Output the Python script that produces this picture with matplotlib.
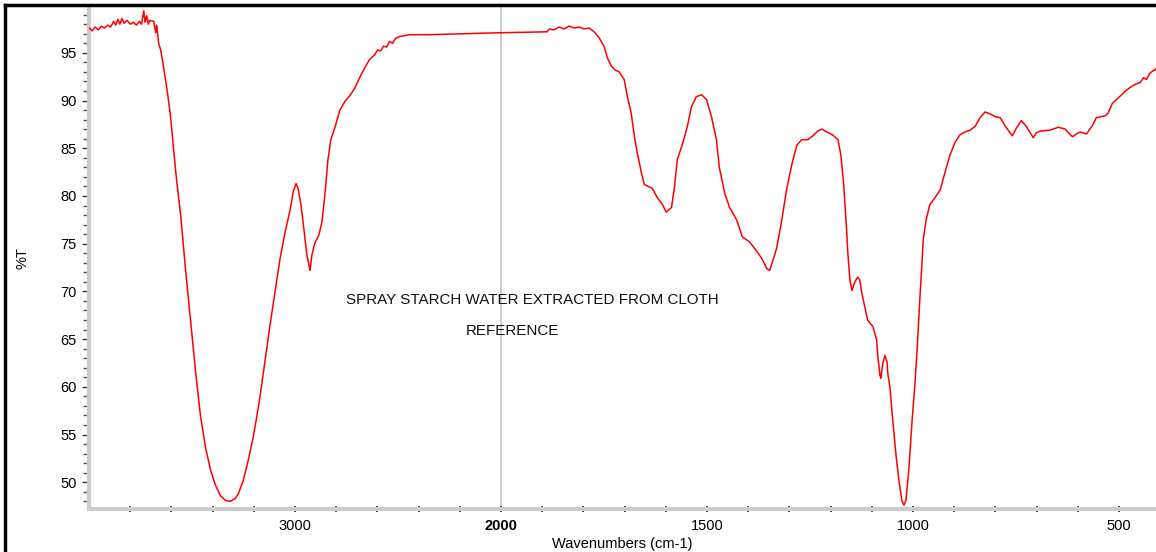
import numpy as np
import matplotlib.pyplot as plt
from matplotlib.lines import Line2D
from matplotlib.ticker import FixedLocator, NullFormatter

# IR spectrum, %T against wavenumber (cm-1)
wavenumber = [3998, 3985, 3970, 3955, 3940, 3925, 3910, 3895, 3880, 3870,
              3860, 3850, 3840, 3830, 3815, 3800, 3785, 3770, 3755, 3745,
              3734, 3728, 3720, 3712, 3705, 3686, 3676, 3671, 3662, 3652,
              3638, 3619, 3604, 3589, 3575, 3555, 3531, 3507, 3483, 3459,
              3434, 3410, 3386, 3362, 3338, 3314, 3290, 3275, 3251, 3227,
              3203, 3183, 3169, 3145, 3121, 3096, 3072, 3048, 3024, 3009,
              2995, 2985, 2971, 2956, 2942, 2927, 2918, 2903, 2884, 2869,
              2855, 2840, 2826, 2807, 2782, 2758, 2734, 2710, 2686, 2662,
              2638, 2613, 2599, 2584, 2570, 2555, 2541, 2526, 2512, 2493,
              2444, 2348, 2010, 1888, 1883, 1871, 1859, 1847, 1835, 1822,
              1810, 1798, 1786, 1774, 1762, 1749, 1742, 1732, 1723, 1713,
              1701, 1693, 1684, 1676, 1669, 1659, 1652, 1633, 1620, 1608,
              1599, 1586, 1579, 1572, 1562, 1555, 1547, 1538, 1526, 1513,
              1501, 1489, 1477, 1470, 1457, 1445, 1428, 1414, 1397, 1377,
              1365, 1355, 1348, 1341, 1331, 1319, 1307, 1294, 1282, 1270,
              1255, 1243, 1231, 1221, 1209, 1195, 1182, 1175, 1168, 1161,
              1158, 1153, 1148, 1141, 1134, 1129, 1124, 1117, 1110, 1097,
              1088, 1085, 1080, 1078, 1073, 1068, 1063, 1061, 1056, 1049,
              1041, 1034, 1027, 1022, 1017, 1010, 1002, 995, 990, 983,
              978, 975, 968, 959, 947, 934, 922, 910, 898, 886,
              874, 861, 849, 837, 825, 813, 800, 788, 774, 759,
              749, 737, 725, 715, 708, 701, 691, 667, 647, 630,
              620, 613, 603, 594, 579, 572, 564, 555, 545, 533,
              526, 516, 506, 496, 484, 472, 460, 448, 440, 433,
              426, 418, 413, 409]
transmittance = [97.6, 97.3, 97.7, 97.4, 97.8, 97.6, 97.9, 97.7, 98.3, 97.9,
                 98.5, 98.0, 98.6, 98.1, 98.4, 98.0, 98.2, 97.9, 98.3, 98.0,
                 99.4, 98.2, 98.9, 98.0, 98.4, 98.3, 97.1, 97.9, 96.0, 95.3,
                 93.5, 90.8, 88.3, 84.8, 81.7, 78.0, 72.2, 67.0, 61.7, 57.0,
                 53.6, 51.3, 49.7, 48.6, 48.1, 48.0, 48.3, 48.8, 50.2, 52.3,
                 54.7, 57.2, 59.1, 62.8, 66.5, 70.1, 73.5, 76.2, 78.5, 80.4,
                 81.3, 80.8, 79.1, 76.4, 73.8, 72.2, 73.8, 75.1, 75.9, 77.3,
                 80.1, 83.8, 85.9, 87.1, 89.0, 89.9, 90.5, 91.3, 92.4, 93.4,
                 94.3, 94.8, 95.3, 95.2, 95.7, 95.6, 96.2, 96.0, 96.5, 96.7,
                 96.9, 96.9, 97.1, 97.2, 97.5, 97.4, 97.7, 97.5, 97.8, 97.6,
                 97.7, 97.5, 97.6, 97.2, 96.6, 95.6, 94.5, 93.6, 93.2, 93.0,
                 92.2, 90.4, 88.7, 86.2, 84.5, 82.4, 81.2, 80.8, 79.8, 79.1,
                 78.3, 78.8, 80.9, 83.8, 85.1, 86.1, 87.4, 89.3, 90.4, 90.6,
                 90.1, 88.3, 85.9, 83.0, 80.3, 78.8, 77.5, 75.7, 75.2, 74.1,
                 73.3, 72.4, 72.2, 73.1, 74.5, 77.3, 80.6, 83.3, 85.3, 85.9,
                 85.9, 86.3, 86.8, 87.0, 86.7, 86.4, 85.9, 84.3, 81.2, 76.4,
                 74.0, 71.2, 70.1, 71.0, 71.5, 71.2, 69.8, 68.4, 67.0, 66.3,
                 64.9, 63.1, 61.2, 60.9, 62.5, 63.3, 62.6, 61.4, 60.0, 56.5,
                 52.8, 50.2, 48.1, 47.6, 48.1, 51.3, 56.5, 60.4, 63.8, 69.4,
                 73.0, 75.4, 77.5, 79.1, 79.8, 80.6, 82.5, 84.3, 85.6, 86.4,
                 86.7, 86.9, 87.3, 88.2, 88.8, 88.6, 88.3, 88.2, 87.2, 86.3,
                 87.1, 87.9, 87.3, 86.6, 86.1, 86.6, 86.8, 86.9, 87.2, 87.0,
                 86.5, 86.2, 86.5, 86.7, 86.5, 86.9, 87.4, 88.2, 88.3, 88.4,
                 88.7, 89.7, 90.1, 90.5, 91.0, 91.4, 91.7, 91.9, 92.4, 92.2,
                 92.8, 93.1, 93.2, 93.4]

major_ticks = [3000, 2000, 1500, 1000, 500]
minor_ticks = [3800, 3600, 3400, 3200, 2800, 2600, 2400, 2200,
               1900, 1800, 1700, 1600, 1400, 1300, 1200, 1100,
               900, 800, 700, 600, 400]
sample_text = "SPRAY STARCH WATER EXTRACTED FROM CLOTH"
ref_text = "REFERENCE"

plt.rcParams['font.family'] = ['Liberation Sans', 'DejaVu Sans']


# wavenumbers above 2000 are drawn at half scale
def fwd(x):
    x = np.asarray(x, dtype=float)
    return np.where(x > 2000, 2000 + (x - 2000) / 2.0, x)


def inv(y):
    y = np.asarray(y, dtype=float)
    return np.where(y > 2000, 2000 + 2.0 * (y - 2000), y)


fig = plt.figure(figsize=(11.56, 5.52), dpi=100)
ax = fig.add_axes([89 / 1156, 43 / 552, 1 - 89 / 1156, 502 / 552])

ax.set_xscale('function', functions=(fwd, inv))
ax.axvline(2000, color='#c4c4c4', lw=1.2, zorder=1)
ax.plot(wavenumber, transmittance, color='#ff0000', lw=1.1, zorder=3)
ax.set_xlim(4000, 410)
ax.set_ylim(47.2, 99.8)

ax.xaxis.set_major_locator(FixedLocator(major_ticks))
ax.xaxis.set_minor_locator(FixedLocator(minor_ticks))
ax.set_xticklabels([str(t) for t in major_ticks])
ax.xaxis.set_minor_formatter(NullFormatter())
ax.set_yticks(np.arange(50, 96, 5))
ax.set_yticks(np.arange(48, 100, 1), minor=True)

for s in ['top', 'right']:
    ax.spines[s].set_visible(False)
for s in ['left', 'bottom']:
    ax.spines[s].set_color('#cccccc')
    ax.spines[s].set_linewidth(3)

ax.tick_params(axis='y', which='major', direction='out', length=5, width=1,
               color='#333333', labelsize=10.5, pad=4)
ax.tick_params(axis='y', which='minor', direction='out', length=4, width=1,
               color='#555555')
ax.tick_params(axis='x', which='both', direction='inout', length=4, width=1.2,
               color='#222222', labelsize=10.5, pad=5)
for lbl in ax.get_xticklabels():
    if lbl.get_text() == '2000':
        lbl.set_fontweight('bold')

ax.set_ylabel('%T', fontsize=10.5)
ax.yaxis.set_label_coords(-0.0556, 0.5)
ax.set_xlabel('Wavenumbers (cm-1)', fontsize=10.5, labelpad=3)

ax.text(1925, 69.1, sample_text, ha='center', va='center', fontsize=10.9,
        color='#111111')
ax.text(1973, 65.9, ref_text, ha='center', va='center', fontsize=10.9,
        color='#111111')

# frame at the top and left of the page
fig.add_artist(Line2D([5 / 1156, 1], [1 - 4.5 / 552, 1 - 4.5 / 552],
                      color='black', lw=2.5, transform=fig.transFigure))
fig.add_artist(Line2D([5 / 1156, 5 / 1156], [0, 1 - 4.5 / 552],
                      color='black', lw=2.5, transform=fig.transFigure))

fig.savefig('out.png', dpi=100)
